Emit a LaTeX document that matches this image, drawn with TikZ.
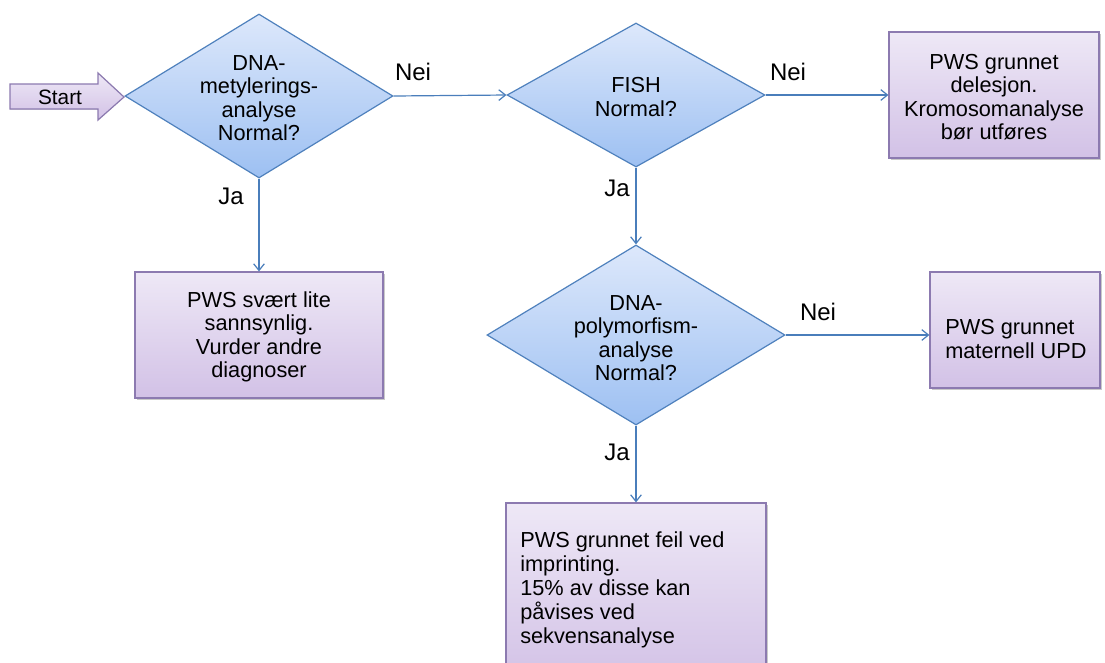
\documentclass[tikz,border=0pt]{standalone}
\usepackage{fontspec}
\setmainfont{Liberation Sans}
\usetikzlibrary{shapes.geometric,arrows.meta,shadows}
\definecolor{dline}{HTML}{4F81BD}
\definecolor{dtop}{HTML}{DDE8FB}
\definecolor{dbot}{HTML}{9DC0F2}
\definecolor{btop}{HTML}{EEE8F6}
\definecolor{bbot}{HTML}{D2C1E6}
\definecolor{bline}{HTML}{8C7AB0}
\definecolor{conn}{HTML}{4A7EBB}
\tikzset{
  dec/.style={diamond, draw=dline, line width=0.9pt, shading=axis, top color=dtop, bottom color=dbot, inner sep=0pt},
  res/.style={rectangle, draw=bline, line width=0.9pt, shading=axis, top color=btop, bottom color=bbot, inner sep=0pt, drop shadow={opacity=0.35, shadow xshift=1.2pt, shadow yshift=-1.2pt, fill=black!60}},
  txt/.style={inner sep=0pt, align=center, font=\fontsize{16.3}{17.5}\selectfont},
  conn/.style={draw=conn, line width=0.9pt, -{Straight Barb[length=5pt,width=8pt]}},
  lbl/.style={font=\fontsize{18}{20}\selectfont},
}
\begin{document}
\begin{tikzpicture}[x=0.75pt,y=-0.75pt]
\clip (0,0) rectangle (1105,662);
\fill[white] (0,0) rectangle (1105,662);
% start arrow
\filldraw[draw=bline, line width=0.9pt, shading=axis, top color=btop, bottom color=bbot]
  (10,84) -- (98,84) -- (98,73) -- (124,97) -- (98,120) -- (98,109) -- (10,109) -- cycle;
\node[font=\fontsize{15.6}{18}\selectfont] (start) at (60,97) {Start};
% decisions
\node[dec, minimum width=268*0.75pt, minimum height=164*0.75pt] (d1) at (259,96) {};
\node[txt] (t1) at (259,98) {DNA-\\metylerings-\\analyse\\Normal?};
\node[dec, minimum width=258*0.75pt, minimum height=144*0.75pt] (d2) at (636,95) {};
\node[txt] (t2) at (636,97) {FISH\\Normal?};
\node[dec, minimum width=298*0.75pt, minimum height=180*0.75pt] (d3) at (636,335) {};
\node[txt] (t3) at (636,338) {DNA-\\polymorfism-\\analyse\\Normal?};
% results
\node[res, minimum width=210*0.75pt, minimum height=126*0.75pt] (r1) at (994,95) {};
\node[txt] (s1) at (994,97) {PWS grunnet\\delesjon.\\Kromosomanalyse\\bør utføres};
\node[res, minimum width=248*0.75pt, minimum height=126*0.75pt] (r2) at (259,335) {};
\node[txt] (s2) at (259,337) {PWS svært lite\\sannsynlig.\\Vurder andre\\diagnoser};
\node[res, minimum width=170*0.75pt, minimum height=116*0.75pt] (r3) at (1015,330) {};
\node[txt, align=left, anchor=west] (s3) at (945,339) {PWS grunnet\\maternell UPD};
\node[res, minimum width=260*0.75pt, minimum height=180*0.75pt] (r4) at (636,593) {};
\node[txt, align=left, anchor=north west, font=\fontsize{16.3}{18}\selectfont] (s4) at (520,531) {PWS grunnet feil ved\\imprinting.\\15\% av disse kan\\påvises ved\\sekvensanalyse};
% connectors
\draw[conn] (d1.east) -- (d2.west);
\draw[conn] (d2.east) -- (r1.west);
\draw[conn] (d1.south) -- (r2.north);
\draw[conn] (d2.south) -- (d3.north);
\draw[conn] (d3.east) -- (r3.west |- d3.east);
\draw[conn] (d3.south) -- (r4.north);
% labels
\node[lbl] (n1) at (413,72) {Nei};
\node[lbl] (n2) at (788,72) {Nei};
\node[lbl] (n3) at (818,312) {Nei};
\node[lbl] (j1) at (231,196) {Ja};
\node[lbl] (j2) at (617,188) {Ja};
\node[lbl] (j3) at (617,452) {Ja};
\end{tikzpicture}
\end{document}
